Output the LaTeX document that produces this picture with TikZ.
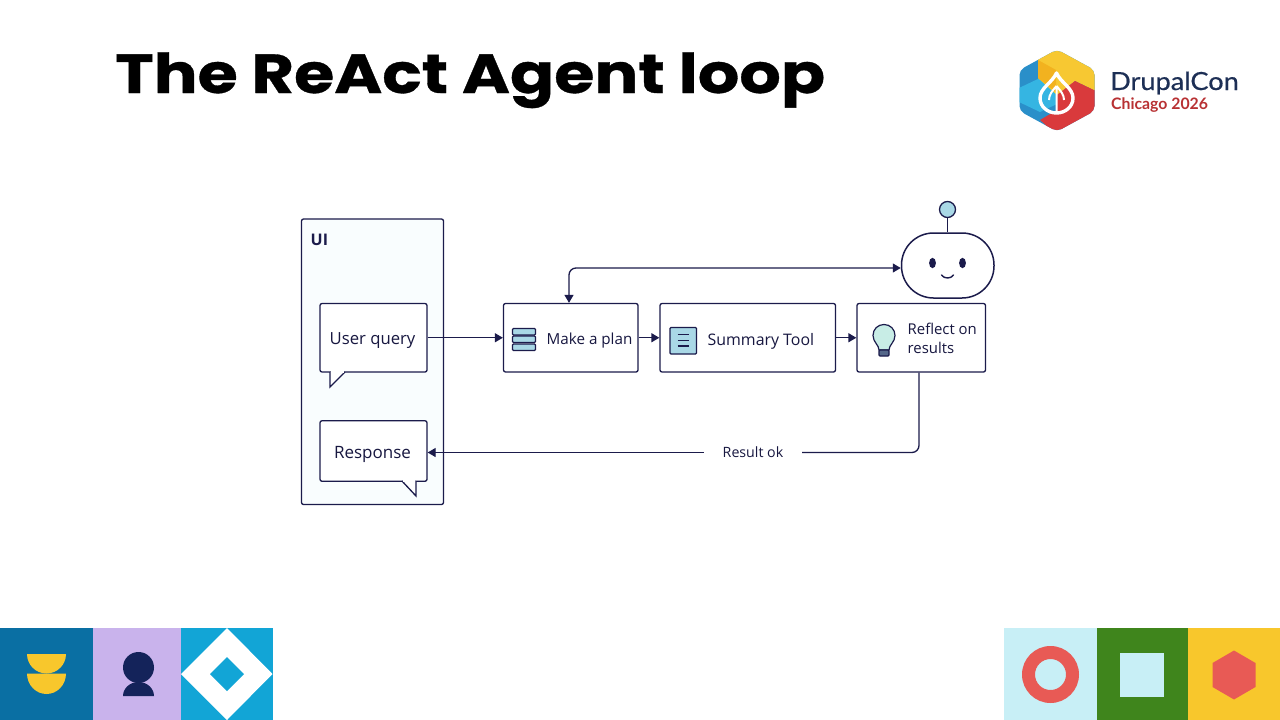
\documentclass[tikz,border=0pt]{standalone}
\usepackage{fontspec}
\setmainfont{Open Sans}
\newfontfamily\titlefont[FakeBold=0.6,FakeStretch=1.185]{Poppins}
\newfontfamily\brandfont[FakeBold=0.5,FakeStretch=1.085]{Lato}
\newfontfamily\editionfont{Lato}
\usetikzlibrary{arrows.meta,calc}
\definecolor{ink}{HTML}{1B1B4B}
\definecolor{iconblue}{HTML}{A9D8E6}
\definecolor{bulbfill}{HTML}{C8EDE6}
\definecolor{coral}{HTML}{E85A55}
\definecolor{sun}{HTML}{F8C72C}
\definecolor{pale}{HTML}{C8EFF6}
\definecolor{deepblue}{HTML}{0A6FA3}
\definecolor{lilac}{HTML}{C9B3EC}
\definecolor{skyblue}{HTML}{12A5D6}
\definecolor{leaf}{HTML}{3F851C}
\definecolor{navy}{HTML}{14235A}
\definecolor{paneltint}{HTML}{F9FDFE}
\definecolor{brandnavy}{HTML}{1D2F55}
\definecolor{logoblue}{HTML}{2A8FC9}
\definecolor{logocyan}{HTML}{35B5E2}
\definecolor{logoyellow}{HTML}{F7C832}
\definecolor{logoamber}{HTML}{F2B21F}
\definecolor{logored}{HTML}{D93A3C}
\tikzset{
  box/.style={draw=ink,line width=1.3pt,rounded corners=2pt,fill=white,inner sep=0pt},
  label/.style={font=\fontsize{15.5}{19}\selectfont,text=ink!85!black,inner sep=0pt},
  link/.style={draw=ink,line width=1.3pt},
  flow/.style={link,-{Triangle[length=8pt,width=9pt]}},
  iconline/.style={draw=ink,line width=1.2pt},
}
\begin{document}
\begin{tikzpicture}[x=1pt,y=-1pt]
\useasboundingbox (0,0) rectangle (1280,720);
\fill[white] (0,0) rectangle (1280,720);

% heading
\node[anchor=base west,inner sep=0pt,font=\titlefont\bfseries\fontsize{55}{60}\selectfont,text=black] (heading) at (115,93) {The ReAct Agent loop};

% conference mark
\begin{scope}
\clip[rounded corners=5pt] (1057,49.5) -- (1094.5,70) -- (1094.5,111) -- (1057,131.5) -- (1019.5,111) -- (1019.5,70) -- cycle;
\fill[logoblue] (1015,45) rectangle (1100,135);
\fill[logocyan] (1019,88) -- (1040,78) -- (1057,92) -- (1057,104) -- (1040,112) -- (1019,102) -- cycle;
\fill[logoyellow] (1038,45) -- (1100,45) -- (1100,93) -- (1075,81) -- (1057,95) -- (1038,78) -- cycle;
\fill[logoamber] (1038,60) -- (1056,70) -- (1056,92) -- (1038,78) -- cycle;
\fill[logored] (1100,93) -- (1100,135) -- (1057,135) -- (1040,120) -- (1057,110) -- (1057,95) -- (1075,81) -- cycle;
\end{scope}
\draw[white,line width=3.4pt,line join=round] (1056.5,73) .. controls (1052,83) and (1040,88) .. (1040,98) .. controls (1040,107) and (1048,113) .. (1056.5,113) .. controls (1065,113) and (1073,107) .. (1073,98) .. controls (1073,88) and (1061,83) .. (1056.5,73) -- cycle;
\draw[white,line width=2pt] (1056.5,86) .. controls (1052,91) and (1049,95) .. (1049,100) (1056.5,86) .. controls (1061,91) and (1064,95) .. (1064,100) (1056.5,86) -- (1056.5,112);
\node[anchor=base west,inner sep=0pt,font=\brandfont\fontsize{25}{28}\selectfont,text=brandnavy] (brand) at (1110,90) {DrupalCon};
\node[anchor=base west,inner sep=0pt,font=\editionfont\bfseries\fontsize{15.8}{18}\selectfont,text=logored!85!black] (edition) at (1111,109) {Chicago 2026};

% user interface panel
\draw[box,fill=paneltint] (301.5,219) rectangle (443.5,504.5);
\node[anchor=base west,inner sep=0pt,font=\bfseries\fontsize{16}{19}\selectfont,text=ink] (uititle) at (310.5,245) {UI};

% speech bubbles
\node[box,minimum width=107pt,minimum height=68.5pt] (query) at (373.5,337.75) {};
\node[box,minimum width=107pt,minimum height=60.5pt] (response) at (373.5,451) {};
\filldraw[draw=ink,fill=white,line width=1.3pt,line join=miter] (345,372) -- (330,387) -- (330,372);
\draw[white,line width=1.6pt] (331,372) -- (344,372);
\filldraw[draw=ink,fill=white,line width=1.3pt,line join=miter] (402,481) -- (416,496) -- (416,481);
\draw[white,line width=1.6pt] (403,481) -- (415,481);
\node[label,font=\fontsize{16.7}{19}\selectfont] (querytext) at (372.5,340.5) {User query};
\node[label,font=\fontsize{17}{19}\selectfont] (responsetext) at (372.5,454.5) {Response};

% pipeline steps
\node[box,minimum width=134.5pt,minimum height=68.5pt] (plan) at (570.75,337.75) {};
\node[box,minimum width=175.5pt,minimum height=68.5pt] (summary) at (747.75,337.75) {};
\node[box,minimum width=128.5pt,minimum height=68.5pt] (reflect) at (921.25,337.75) {};
\node[label,anchor=west,font=\fontsize{15.2}{19}\selectfont] (plantext) at (546.5,341) {Make a plan};
\node[label,anchor=west,font=\fontsize{15.9}{19}\selectfont] (summarytext) at (707.5,341) {Summary Tool};
\node[label,anchor=west,align=left,font=\fontsize{14.9}{19.5}\selectfont] (reflecttext) at (907.5,338.5) {Reflect on\\results};

% stacked bars icon
\foreach \y in {328.5,336,344}
  \draw[iconline,fill=iconblue,rounded corners=1pt] (512.5,\y) rectangle (535.5,\y+6.5);

% document icon
\draw[iconline,fill=iconblue,rounded corners=1pt] (670,327.5) rectangle (696.5,354);
\foreach \y in {334.5,340.5,346}
  \draw[iconline] (677.5,\y) -- (689,\y);

% light bulb icon
\draw[iconline,fill=bulbfill] (879,350) .. controls (879,345) and (873,342) .. (873,335.5) .. controls (873,329) and (878,324.5) .. (884,324.5) .. controls (890,324.5) and (895,329) .. (895,335.5) .. controls (895,342) and (889,345) .. (889,350) -- cycle;
\draw[iconline,fill=ink!60!iconblue,rounded corners=1pt] (879,350) rectangle (889,356);

% assistant head
\node[draw=ink,line width=1.5pt,fill=white,rounded corners=32pt,minimum width=92.5pt,minimum height=65pt,inner sep=0pt] (robot) at (947.75,265.5) {};
\node[draw=ink,line width=1.3pt,fill=iconblue,circle,minimum size=16pt,inner sep=0pt] (antenna) at (947.5,209.5) {};
\draw[link] (antenna.south) -- (antenna.south |- robot.north);
\fill[ink] (932.5,263) ellipse (3.4pt and 5.2pt);
\fill[ink] (962.5,263) ellipse (3.4pt and 5.2pt);
\draw[ink,line width=1.4pt,line cap=round] (941.5,275) .. controls (944,279) and (951,279) .. (953.5,275);

% connectors
\draw[flow] (query.east) -- (query.east -| plan.west);
\draw[flow] (plan.east) -- (summary.west);
\draw[flow] (summary.east) -- (reflect.west);
\draw[link,{Triangle[length=8pt,width=9pt]}-{Triangle[length=8pt,width=9pt]},rounded corners=7pt] ([xshift=-1.75pt]plan.north) |- ([yshift=-2.5pt]robot.west);
\node[inner sep=0pt,minimum width=98pt,minimum height=18pt,font=\fontsize{14.2}{17}\selectfont,text=ink!85!black] (resultok) at (753,452.5) {Result ok};
\draw[link,rounded corners=7pt] ([xshift=-2.25pt]reflect.south) |- (resultok.east);
\draw[flow] (resultok.west) -- (resultok.west -| response.east);

% corner tiles, left
\fill[deepblue] (0,628) rectangle (92.5,720);
\fill[lilac] (92.5,628) rectangle (181,720);
\fill[skyblue] (181,628) rectangle (272.5,720);
\fill[sun] (27,654) -- (66,654) arc[start angle=0,end angle=180,x radius=19.5,y radius=19.5] -- cycle;
\fill[sun] (27,673.5) -- (66,673.5) arc[start angle=0,end angle=180,x radius=19.5,y radius=20.5] -- cycle;
\fill[navy] (138.5,667.5) circle[radius=15.5];
\fill[navy] (123,696) arc[start angle=180,end angle=0,x radius=15.5,y radius=-14] -- cycle;
\fill[white] (227,628) -- (272.5,674) -- (227,720) -- (181,674) -- cycle;
\fill[skyblue] (227,657) -- (244,674) -- (227,691) -- (210,674) -- cycle;

% corner tiles, right
\fill[pale] (1004,628) rectangle (1096.5,720);
\fill[leaf] (1096.5,628) rectangle (1188,720);
\fill[sun] (1188,628) rectangle (1280,720);
\fill[coral,even odd rule] (1050.5,674.5) circle[radius=28.5] (1050.5,674.5) circle[radius=15.5];
\fill[pale] (1120,653) rectangle (1164,696.5);
\fill[coral] (1234,650.5) -- (1255.5,663) -- (1255.5,687) -- (1234,699.5) -- (1212.5,687) -- (1212.5,663) -- cycle;
\end{tikzpicture}
\end{document}
